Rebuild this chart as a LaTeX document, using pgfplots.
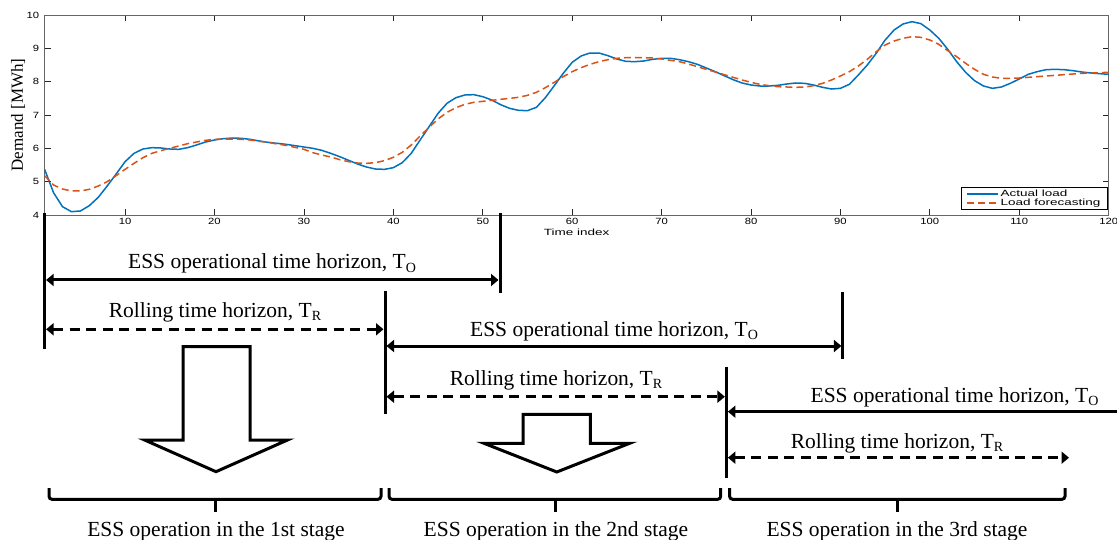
\documentclass[border=0pt]{standalone}
\usepackage{fontspec}
\setmainfont{Liberation Serif}
\setsansfont{Liberation Sans}
\usepackage{graphicx}
\usepackage{pgfplots}
\usepackage{pgfplotstable}
\pgfplotsset{compat=1.18}
\usetikzlibrary{arrows.meta}
\definecolor{mblue}{rgb}{0,0.447,0.741}
\definecolor{mred}{rgb}{0.85,0.325,0.098}

\pgfplotstableread{
x y
1 5.37
2 4.67
3 4.25
4 4.10
5 4.12
6 4.28
7 4.53
8 4.87
9 5.23
10 5.60
11 5.85
12 5.98
13 6.02
14 6.01
15 5.98
16 5.97
17 6.02
18 6.10
19 6.19
20 6.25
21 6.29
22 6.31
23 6.30
24 6.27
25 6.22
26 6.18
27 6.15
28 6.12
29 6.08
30 6.04
31 6.00
32 5.94
33 5.85
34 5.75
35 5.64
36 5.53
37 5.44
38 5.38
39 5.37
40 5.42
41 5.57
42 5.85
43 6.25
44 6.65
45 7.05
46 7.35
47 7.52
48 7.60
49 7.61
50 7.55
51 7.45
52 7.31
53 7.20
54 7.14
55 7.13
56 7.23
57 7.52
58 7.88
59 8.25
60 8.58
61 8.77
62 8.86
63 8.86
64 8.78
65 8.68
66 8.61
67 8.60
68 8.62
69 8.67
70 8.70
71 8.70
72 8.66
73 8.60
74 8.52
75 8.41
76 8.30
77 8.18
78 8.06
79 7.96
80 7.90
81 7.87
82 7.87
83 7.89
84 7.93
85 7.96
86 7.95
87 7.90
88 7.83
89 7.78
90 7.80
91 7.92
92 8.20
93 8.50
94 8.85
95 9.25
96 9.55
97 9.73
98 9.80
99 9.74
100 9.55
101 9.30
102 8.97
103 8.60
104 8.28
105 8.03
106 7.87
107 7.80
108 7.84
109 7.95
110 8.08
111 8.22
112 8.30
113 8.36
114 8.37
115 8.36
116 8.33
117 8.29
118 8.26
119 8.24
120 8.22
}\actual

\pgfplotstableread{
x y
1 5.18
2 4.90
3 4.78
4 4.72
5 4.72
6 4.77
7 4.87
8 5.00
9 5.18
10 5.37
11 5.55
12 5.72
13 5.85
14 5.93
15 6.00
16 6.07
17 6.14
18 6.19
19 6.24
20 6.27
21 6.28
22 6.28
23 6.27
24 6.25
25 6.21
26 6.18
27 6.13
28 6.09
29 6.03
30 5.97
31 5.87
32 5.80
33 5.74
34 5.66
35 5.60
36 5.56
37 5.55
38 5.57
39 5.63
40 5.73
41 5.88
42 6.10
43 6.37
44 6.63
45 6.88
46 7.08
47 7.22
48 7.32
49 7.38
50 7.41
51 7.44
52 7.47
53 7.50
54 7.53
55 7.59
56 7.68
57 7.82
58 7.98
59 8.15
60 8.30
61 8.42
62 8.52
63 8.60
64 8.66
65 8.70
66 8.72
67 8.72
68 8.72
69 8.71
70 8.68
71 8.64
72 8.60
73 8.53
74 8.45
75 8.37
76 8.29
77 8.21
78 8.13
79 8.05
80 7.98
81 7.92
82 7.88
83 7.85
84 7.84
85 7.83
86 7.84
87 7.88
88 7.95
89 8.05
90 8.17
91 8.30
92 8.47
93 8.67
94 8.90
95 9.10
96 9.22
97 9.30
98 9.35
99 9.33
100 9.25
101 9.12
102 8.93
103 8.75
104 8.55
105 8.37
106 8.22
107 8.14
108 8.10
109 8.10
110 8.11
111 8.13
112 8.15
113 8.17
114 8.19
115 8.21
116 8.23
117 8.25
118 8.26
119 8.27
120 8.28
}\forecast

\newcommand\Ann[1]{{\fontsize{21.5}{24}\selectfont #1}}
\newcommand\Sub[1]{\raisebox{-3.3pt}{\fontsize{14}{14}\selectfont #1}}
\tikzset{
  tip/.tip={Triangle[length=7.5pt,width=12pt]},
  both/.style={{tip}-{tip}},
  dsh/.style={dash pattern=on 10pt off 6.5pt},
}

\begin{document}
\begin{tikzpicture}[x=1pt,y=1pt]
\useasboundingbox (0,0) rectangle (1117,539);
\begin{axis}[
  at={(44.6pt,324pt)}, anchor=south west,
  scale only axis, width=1064.1pt, height=200pt,
  xmin=1, xmax=120, ymin=4, ymax=10,
  xtick={10,20,...,120}, ytick={4,5,...,10},
  tick align=inside, major tick length=6pt,
  axis line style={black!60, line width=0.9pt},
  major tick style={black!85, line width=0.8pt},
  ticklabel style={font=\sffamily\fontsize{9}{10}\selectfont},
  xticklabel={\scalebox{1.25}[1]{\pgfmathprintnumber[assume math mode=true]{\tick}}},
  yticklabel={\scalebox{1.25}[1]{\pgfmathprintnumber[assume math mode=true]{\tick}}},
  yticklabel style={xshift=-2pt},
  xlabel={\scalebox{1.5}[1]{Time index}},
  every axis x label/.style={at={(axis description cs:0.5,-0.085)}, anchor=center, font=\sffamily\fontsize{9}{10}\selectfont},
  ylabel={Demand [MWh]},
  every axis y label/.style={at={(axis description cs:-0.025,0.5)}, rotate=90, anchor=center, font=\fontsize{17}{18}\selectfont},
  legend style={at={(axis description cs:1,0)}, anchor=south east, xshift=-1pt, yshift=5pt,
    draw=black, line width=0.7pt, fill=white, font=\sffamily\fontsize{9}{9}\selectfont,
    inner xsep=5pt, inner ysep=0.6pt, row sep=-3pt, cells={anchor=west}},
  legend image code/.code={\draw[#1] (0pt,0pt) -- (31pt,0pt);},
]
\addplot[mblue, line width=1.5pt] table[x=x,y=y] {\actual};
\addlegendentry{\scalebox{1.5}[1]{Actual load}}
\addplot[mred, line width=1.5pt, dash pattern=on 7pt off 4pt] table[x=x,y=y] {\forecast};
\addlegendentry{\scalebox{1.5}[1]{Load forecasting}}
\end{axis}

\begin{scope}[shift={(0,539)}, yscale=-1, line width=3pt]
  % vertical bars
  \draw (44.6,213) -- (44.6,348.5);
  \draw (500,213) -- (500,293);
  \draw (385,291) -- (385,414);
  \draw (842.9,292.3) -- (842.9,359.3);
  \draw (726.4,366.7) -- (726.4,478.3);
  % horizon arrows
  \draw[both] (46.1,280) -- (498.5,280);
  \draw[both,dsh] (46.1,329.3) -- (383.5,329.3);
  \draw[both] (386.5,346) -- (841.4,346);
  \draw[both,dsh] (386.5,396.7) -- (724.9,396.7);
  \draw[{tip}-] (727.9,411.7) -- (1117,411.7);
  \draw[both,dsh] (727.9,457.7) -- (1069,457.7);
  % labels
  \node[anchor=base, inner sep=0] at (272,269) {\Ann{ESS operational time horizon, T\Sub{O}}};
  \node[anchor=base, inner sep=0] at (215,317.3) {\Ann{Rolling time horizon, T\Sub{R}}};
  \node[anchor=base, inner sep=0] at (614,336) {\Ann{ESS operational time horizon, T\Sub{O}}};
  \node[anchor=base, inner sep=0] at (556,385) {\Ann{Rolling time horizon, T\Sub{R}}};
  \node[anchor=base, inner sep=0] at (954.5,402.3) {\Ann{ESS operational time horizon, T\Sub{O}}};
  \node[anchor=base, inner sep=0] at (897,448.3) {\Ann{Rolling time horizon, T\Sub{R}}};
  % block arrows
  \draw[line join=miter] (183,346.7) -- (250,346.7) -- (250,440) -- (287.5,440) -- (216,471.7) -- (144.6,440) -- (183,440) -- cycle;
  \draw[line join=miter] (523,414.3) -- (590.4,414.3) -- (590.4,443.3) -- (629.6,443.3) -- (556.8,472) -- (484,443.3) -- (523,443.3) -- cycle;
  % braces
  \draw[rounded corners=3pt] (49,488) -- (49,499.3) -- (381,499.3) -- (381,488);
  \draw (215.4,499.3) -- (215.4,512);
  \draw[rounded corners=3pt] (389,488) -- (389,499.3) -- (720.7,499.3) -- (720.7,488);
  \draw (555,499.3) -- (555,512);
  \draw[rounded corners=3pt] (729.6,488) -- (729.6,499.3) -- (1065,499.3) -- (1065,488);
  \draw (897.5,499.3) -- (897.5,512);
  % stage labels
  \node[anchor=base, inner sep=0] at (216,536) {\Ann{ESS operation in the 1st stage}};
  \node[anchor=base, inner sep=0] at (556,536) {\Ann{ESS operation in the 2nd stage}};
  \node[anchor=base, inner sep=0] at (897,536) {\Ann{ESS operation in the 3rd stage}};
\end{scope}
\end{tikzpicture}
\end{document}
